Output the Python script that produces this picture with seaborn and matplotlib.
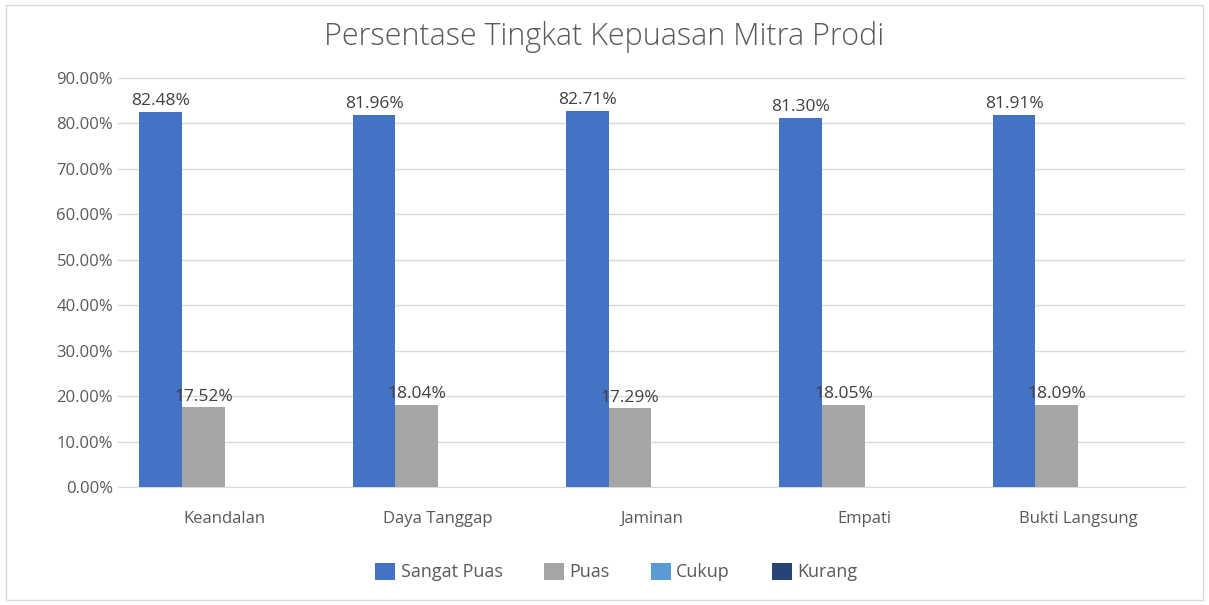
import pandas as pd
import matplotlib.pyplot as plt
import seaborn as sns
from matplotlib.patches import Rectangle
from matplotlib.ticker import FuncFormatter

# Data
categories = ['Keandalan', 'Daya Tanggap', 'Jaminan', 'Empati', 'Bukti Langsung']
sangat_puas = [82.48, 81.96, 82.71, 81.30, 81.91]
puas = [17.52, 18.04, 17.29, 18.05, 18.09]
cukup = [0, 0, 0, 0, 0]
kurang = [0, 0, 0, 0, 0]
series = ['Sangat Puas', 'Puas', 'Cukup', 'Kurang']
colors = ['#4472C4', '#A5A5A5', '#5B9BD5', '#264478']

rows = []
for name, vals in zip(series, [sangat_puas, puas, cukup, kurang]):
    for cat, v in zip(categories, vals):
        rows.append({'kategori': cat, 'seri': name, 'nilai': v})
df = pd.DataFrame(rows)

sns.set_style('white')
plt.rcParams['font.family'] = ['Open Sans', 'DejaVu Sans']

fig = plt.figure(figsize=(12.09, 6.05), dpi=100)
ax = fig.add_axes([0.0976, 0.195, 0.8824, 0.676])

sns.barplot(data=df, x='kategori', y='nilai', hue='seri', palette=colors,
            width=0.8, saturation=1, linewidth=0, ax=ax, zorder=3)

# Data labels on non-zero bars
for cont in ax.containers:
    labels = [f'{b.get_height():.2f}%' if b.get_height() > 0 else '' for b in cont]
    ax.bar_label(cont, labels=labels, padding=2, fontsize=12.5, color='#404040')

ax.set_ylim(0, 90)
ax.set_yticks(range(0, 91, 10))
ax.yaxis.set_major_formatter(FuncFormatter(lambda v, p: f'{v:.2f}%'))
ax.grid(axis='y', color='#D9D9D9', linewidth=1, zorder=0)
for s in ['top', 'right', 'left']:
    ax.spines[s].set_visible(False)
ax.spines['bottom'].set_color('#D9D9D9')
ax.tick_params(axis='both', length=0, labelsize=12, colors='#595959')
ax.tick_params(axis='x', pad=17)
ax.set_xlabel('')
ax.set_ylabel('')

ax.legend(loc='upper center', bbox_to_anchor=(0.467, -0.145), ncol=4, frameon=False,
          fontsize=13, handlelength=1.1, handleheight=1.1, columnspacing=2.3,
          handletextpad=0.3, labelcolor='#595959')

fig.suptitle('Persentase Tingkat Kepuasan Mitra Prodi', y=0.965, fontsize=22,
             color='#595959', fontweight='light')

fig.patches.append(Rectangle((0.005, 0.008), 0.99, 0.984, transform=fig.transFigure,
                             fill=False, edgecolor='#D9D9D9', linewidth=1))

plt.savefig('out.png', dpi=100)
